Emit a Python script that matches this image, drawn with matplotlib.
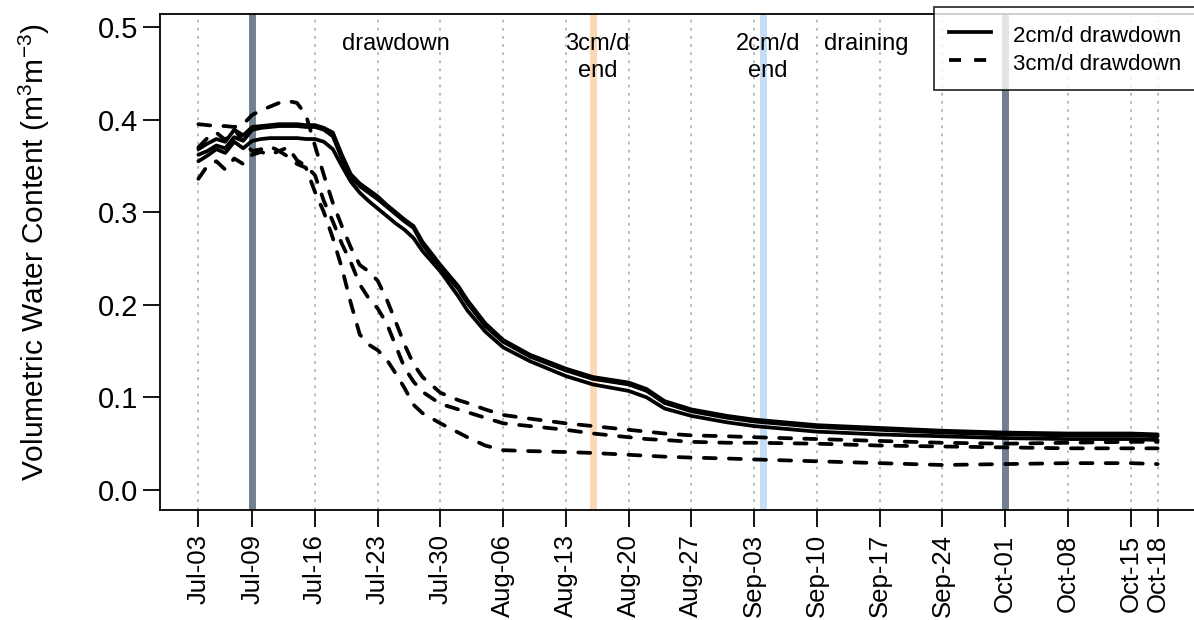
import datetime as dt
import matplotlib
matplotlib.use("Agg")
import matplotlib.pyplot as plt
import matplotlib.dates as mdates
from matplotlib.lines import Line2D

plt.rcParams["font.family"] = ["Liberation Sans", "DejaVu Sans"]
plt.rcParams["mathtext.fontset"] = "custom"
plt.rcParams["mathtext.rm"] = "Liberation Sans"
plt.rcParams["mathtext.it"] = "Liberation Sans"

YEAR = 2018

# sampling dates (month, day)
dates_md = [(7, d) for d in range(3, 29)] + [
    (7, 30), (8, 1), (8, 2), (8, 4), (8, 6), (8, 9), (8, 13), (8, 16), (8, 20),
    (8, 22), (8, 24), (8, 27), (8, 31), (9, 3), (9, 10), (9, 17), (9, 24),
    (10, 1), (10, 8), (10, 15), (10, 18)]

# 2cm/d drawdown sensors
vwc_2cm_a = [0.368, 0.374, 0.379, 0.376, 0.389, 0.383, 0.392, 0.393, 0.394, 0.395,
             0.395, 0.395, 0.394, 0.394, 0.391, 0.386, 0.362, 0.341, 0.331, 0.324,
             0.317, 0.308, 0.300, 0.292, 0.285, 0.268,
             0.243, 0.220, 0.205, 0.180, 0.162, 0.146, 0.131, 0.122, 0.116, 0.109,
             0.096, 0.087, 0.080, 0.076, 0.070, 0.067, 0.064, 0.062, 0.061, 0.061, 0.060]
vwc_2cm_b = [0.362, 0.366, 0.372, 0.369, 0.381, 0.377, 0.389, 0.391, 0.392, 0.393,
             0.393, 0.393, 0.392, 0.392, 0.389, 0.382, 0.358, 0.338, 0.328, 0.321,
             0.314, 0.306, 0.298, 0.290, 0.283, 0.265,
             0.240, 0.217, 0.202, 0.177, 0.160, 0.144, 0.129, 0.120, 0.114, 0.107,
             0.094, 0.085, 0.078, 0.074, 0.068, 0.065, 0.062, 0.060, 0.059, 0.059, 0.058]
vwc_2cm_c = [0.355, 0.361, 0.368, 0.364, 0.376, 0.369, 0.377, 0.379, 0.380, 0.380,
             0.380, 0.380, 0.379, 0.379, 0.376, 0.368, 0.350, 0.333, 0.321, 0.312,
             0.304, 0.296, 0.288, 0.281, 0.272, 0.258,
             0.236, 0.209, 0.194, 0.171, 0.154, 0.139, 0.123, 0.114, 0.107, 0.100,
             0.088, 0.080, 0.073, 0.069, 0.063, 0.060, 0.058, 0.056, 0.055, 0.055, 0.054]

# 3cm/d drawdown sensors
vwc_3cm_a = [0.395, 0.394, 0.393, 0.393, 0.392, 0.395, 0.405, 0.410, 0.414, 0.418,
             0.420, 0.418, 0.405, 0.372, 0.340, 0.310, 0.285, 0.262, 0.243, 0.236,
             0.226, 0.206, 0.182, 0.157, 0.136, 0.122,
             0.105, 0.097, 0.094, 0.087, 0.081, 0.077, 0.072, 0.069, 0.065, 0.063,
             0.061, 0.059, 0.058, 0.057, 0.055, 0.053, 0.051, 0.050, 0.051, 0.052, 0.052]
vwc_3cm_b = [0.370, 0.380, 0.386, 0.378, 0.390, 0.376, 0.366, 0.368, 0.371, 0.366,
             0.370, 0.356, 0.350, 0.340, 0.312, 0.290, 0.266, 0.246, 0.222, 0.207,
             0.196, 0.180, 0.156, 0.132, 0.117, 0.106,
             0.093, 0.087, 0.084, 0.078, 0.072, 0.069, 0.065, 0.061, 0.057, 0.055,
             0.054, 0.052, 0.051, 0.051, 0.050, 0.048, 0.047, 0.046, 0.045, 0.045, 0.045]
vwc_3cm_c = [0.336, 0.350, 0.355, 0.346, 0.358, 0.352, 0.362, 0.365, 0.362, 0.366,
             0.360, 0.352, 0.348, 0.322, 0.300, 0.272, 0.240, 0.202, 0.168, 0.157,
             0.151, 0.141, 0.126, 0.110, 0.092, 0.083,
             0.072, 0.062, 0.057, 0.048, 0.043, 0.042, 0.041, 0.040, 0.038, 0.037,
             0.036, 0.035, 0.034, 0.033, 0.031, 0.029, 0.027, 0.028, 0.029, 0.029, 0.028]

tick_md = [(7, 3), (7, 9), (7, 16), (7, 23), (7, 30), (8, 6), (8, 13), (8, 20), (8, 27),
           (9, 3), (9, 10), (9, 17), (9, 24), (10, 1), (10, 8), (10, 15), (10, 18)]

# period markers: (month, day, colour)
markers = [((7, 9), "#717f91"), ((10, 1), "#717f91"),
           ((8, 16), "#fcd8b4"), ((9, 4), "#c5def8")]

# labels: (month, day, hour), y, text
notes = [((7, 25, 0), 0.482, "drawdown"),
         ((8, 16, 12), 0.467, "3cm/d\nend"),
         ((9, 4, 12), 0.467, "2cm/d\nend"),
         ((9, 15, 12), 0.482, "draining")]


def d(md):
    return dt.datetime(YEAR, *md)


x = [d(md) for md in dates_md]
ticks = [d(md) for md in tick_md]

W, H = 1194, 620
fig = plt.figure(figsize=(W / 100, H / 100), dpi=100)
ax = fig.add_axes([160 / W, 1 - 510 / H, 1036 / W, 496 / H])

for t in ticks:
    ax.axvline(t, color="#b5b5b5", lw=1.3, ls=(0, (1.5, 3)), zorder=0)
for md, c in markers:
    ax.axvline(d(md), color=c, lw=5, zorder=1)

for vals in (vwc_2cm_a, vwc_2cm_b, vwc_2cm_c):
    ax.plot(x, vals, color="black", lw=2.7, solid_capstyle="round",
            solid_joinstyle="round", zorder=3)
for vals in (vwc_3cm_a, vwc_3cm_b, vwc_3cm_c):
    ax.plot(x, vals, color="black", lw=2.7, dashes=(3.2, 3.5),
            dash_capstyle="round", dash_joinstyle="round", zorder=3)

for md, y, txt in notes:
    ax.text(d(md), y, txt, ha="center", va="center", fontsize=17,
            linespacing=1.25, zorder=4)

span = (ticks[-1] - ticks[0]) * 0.04
ax.set_xlim(ticks[0] - span, ticks[-1] + span)
ax.set_ylim(-0.0216, 0.514)
ax.set_yticks([0.0, 0.1, 0.2, 0.3, 0.4, 0.5])
ax.set_yticklabels(["0.0", "0.1", "0.2", "0.3", "0.4", "0.5"])
ax.set_xticks(ticks)
ax.xaxis.set_major_formatter(mdates.DateFormatter("%b-%d"))
ax.tick_params(axis="x", labelrotation=90, labelsize=18.5, length=12.5, width=1.3, pad=5)
ax.tick_params(axis="y", labelsize=21, length=12.5, width=1.3, pad=3)
for s in ax.spines.values():
    s.set_linewidth(1.3)

fig.text(34 / W, 1 - 252 / H, "Volumetric Water Content (m$^{3}$m$^{-3}$)",
         rotation=90, ha="center", va="center", fontsize=21.5)

handles = [Line2D([], [], color="black", lw=2.7),
           Line2D([], [], color="black", lw=2.7, dashes=(3.2, 3.5))]
leg = ax.legend(handles, ["2cm/d drawdown", "3cm/d drawdown"], loc="upper right",
                bbox_to_anchor=(1196 / W, 1 - 7 / H), bbox_transform=fig.transFigure,
                fontsize=16, frameon=True, fancybox=False, borderaxespad=0,
                handlelength=1.9, handleheight=1.35, handletextpad=1.0,
                labelspacing=0.16, borderpad=0.66)
leg.get_frame().set_edgecolor("black")
leg.get_frame().set_linewidth(1.3)
leg.set_zorder(5)

fig.savefig("out.png", dpi=100)
